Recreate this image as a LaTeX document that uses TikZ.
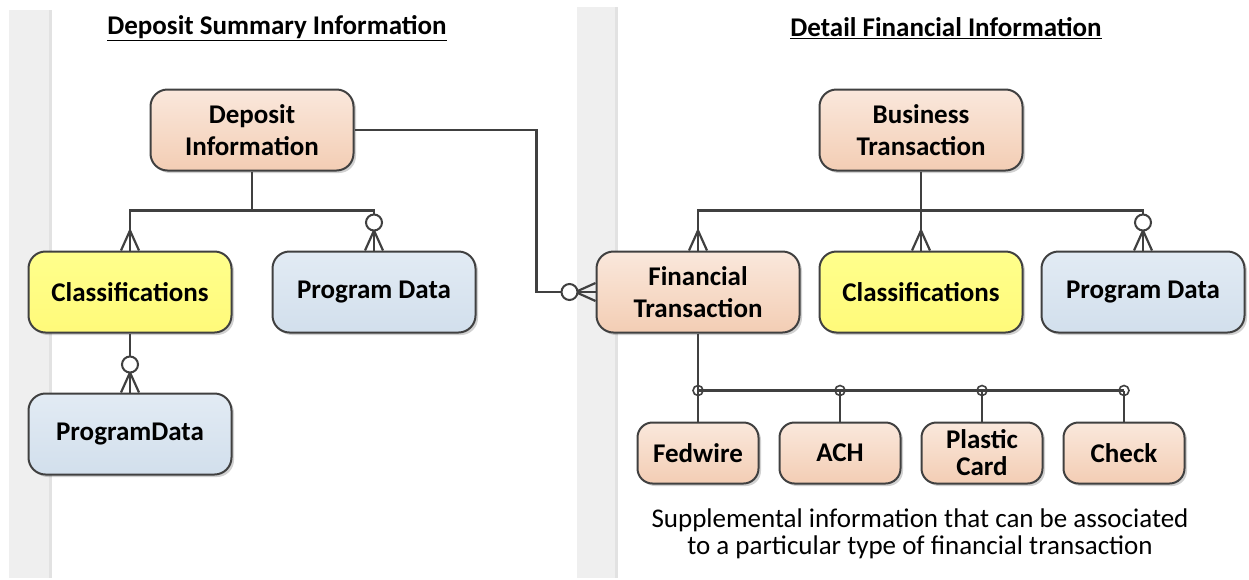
\documentclass[tikz,border=0pt]{standalone}
\usepackage{fontspec}
\setmainfont{Carlito}
\usetikzlibrary{calc,shadows}
\definecolor{edge}{HTML}{404040}
\definecolor{peachtop}{HTML}{FAE8DC}
\definecolor{peachbot}{HTML}{F3CDB4}
\definecolor{yeltop}{HTML}{FFFF8C}
\definecolor{yelbot}{HTML}{FFFA7A}
\definecolor{bluetop}{HTML}{E2EBF4}
\definecolor{bluebot}{HTML}{D2DFEC}
\definecolor{band}{HTML}{EFEFEF}
\definecolor{bandedge}{HTML}{E2E2E2}
\tikzset{
  entity/.style={draw=edge, line width=2pt, rounded corners=17pt,
    minimum width=203pt, minimum height=81pt, align=center,
    font=\fontsize{27}{32}\selectfont\bfseries, text=black,
    drop shadow={shadow xshift=2.5pt, shadow yshift=-2.5pt, opacity=0.18, fill=black}},
  peach/.style={entity, top color=peachtop, bottom color=peachbot},
  yel/.style={entity, top color=yeltop, bottom color=yelbot},
  bluebox/.style={entity, top color=bluetop, bottom color=bluebot},
  smallbox/.style={peach, minimum width=121pt, minimum height=61pt, rounded corners=15pt,
    font=\fontsize{27}{27}\selectfont\bfseries},
  link/.style={draw=edge, line width=2.2pt},
  ring/.style={draw=edge, line width=2pt, fill=white},
  heading/.style={font=\fontsize{27}{30}\selectfont\bfseries, text=black},
}
% crow's foot on the top edge of a box (many)
\newcommand{\crowtop}[1]{%
  \draw[link] ($(#1)+(-9,0)$) -- ($(#1)+(0,-20)$) -- ($(#1)+(9,0)$);}
% zero-or-many marker on the top edge of a box
\newcommand{\ringcrowtop}[1]{%
  \crowtop{#1}
  \draw[ring] ($(#1)+(0,-28)$) circle[radius=8pt];}
\begin{document}
\begin{tikzpicture}[x=1pt,y=-1pt]
\useasboundingbox (0,0) rectangle (1249,579);
\fill[white] (0,0) rectangle (1249,579);
% swim-lane bands
\fill[band] (9,10) rectangle (52,578);
\fill[bandedge] (49,10) rectangle (52,578);
\fill[band] (577,7) rectangle (618,578);
\fill[bandedge] (615,7) rectangle (618,578);

% headings
\node[heading] (h1) at (277,28) {\underline{Deposit Summary Information}};
\node[heading] (h2) at (946,28) {\underline{Detail Financial Information}};

% deposit summary side
\node[peach] (dep) at (252,130) {Deposit\\Information};
\node[yel] (cls1) at (130,292) {Classifications};
\node[bluebox] (pd1) at (374,292) {Program Data};
\node[bluebox] (pd2) at (130,434) {ProgramData};

% detail financial side
\node[peach] (bt) at (921,130) {Business\\Transaction};
\node[peach] (ft) at (698,292) {Financial\\Transaction};
\node[yel] (cls2) at (921,292) {Classifications};
\node[bluebox] (pd3) at (1143,292) {Program Data};

\node[smallbox] (fed) at (698,453) {Fedwire};
\node[smallbox] (ach) at (840,453) {ACH};
\node[smallbox] (pc) at (982,453) {Plastic\\Card};
\node[smallbox] (chk) at (1124,453) {Check};

\node[font=\fontsize{27}{27}\selectfont, align=center, text=black] (note) at (920,534)
  {Supplemental information that can be associated\\to a particular type of financial transaction};

% deposit information relationships
\coordinate (busl) at ($(dep.south)+(0,39)$);
\draw[link] (dep.south) -- (busl);
\draw[link] (busl) -| (cls1.north);
\draw[link] (busl) -| ($(pd1.north)+(0,-36)$);
\draw[link] ($(pd1.north)+(0,-36)$) -- (pd1.north);
\crowtop{cls1.north}
\ringcrowtop{pd1.north}

\draw[link] (cls1.south) -- (pd2.north);
\ringcrowtop{pd2.north}

% deposit information to financial transaction
\draw[link] (dep.east) -- ++(182,0) |- ($(ft.west)+(-34,0)$);
\draw[link] ($(ft.west)+(-18,0)$) -- (ft.west);
\draw[link] ($(ft.west)+(0,-9)$) -- ($(ft.west)+(-20,0)$) -- ($(ft.west)+(0,9)$);
\draw[ring] ($(ft.west)+(-26,0)$) circle[radius=8pt];

% business transaction relationships
\coordinate (busr) at ($(bt.south)+(0,39)$);
\draw[link] (bt.south) -- (cls2.north);
\draw[link] (busr) -| (ft.north);
\draw[link] (busr) -| ($(pd3.north)+(0,-36)$);
\draw[link] ($(pd3.north)+(0,-36)$) -- (pd3.north);
\crowtop{ft.north}
\crowtop{cls2.north}
\ringcrowtop{pd3.north}

% supplemental transaction types
\coordinate (busb) at ($(ft.south)+(0,57)$);
\draw[link] (ft.south) -- (fed.north);
\draw[link] (busb) -- (busb -| chk.north);
\draw[link] (busb -| ach.north) -- (ach.north);
\draw[link] (busb -| pc.north) -- (pc.north);
\draw[link] (busb -| chk.north) -- (chk.north);
\foreach \b in {fed,ach,pc,chk}
  \draw[draw=edge, line width=1.6pt] (busb -| \b.north) circle[radius=5pt];
\end{tikzpicture}
\end{document}
